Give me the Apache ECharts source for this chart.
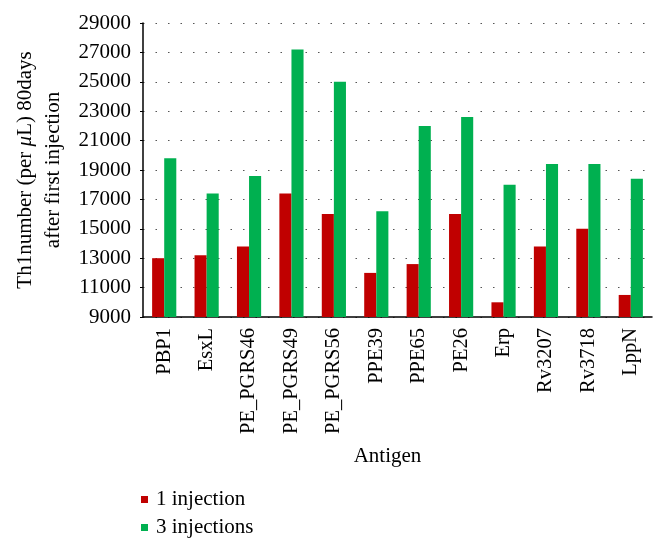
<!DOCTYPE html>
<html><head><meta charset="utf-8">
<script src="https://cdn.jsdelivr.net/npm/echarts@6/dist/echarts.min.js"></script>
<style>html,body{margin:0;padding:0;background:#fff}#c{width:666px;height:551px}</style>
</head><body><div id="c"></div>
<script>
const categories = ['PBP1','EsxL','PE_PGRS46','PE_PGRS49','PE_PGRS56','PPE39','PPE65','PE26','Erp','Rv3207','Rv3718','LppN'];
const oneInjection = [13000,13200,13800,17400,16000,12000,12600,16000,10000,13800,15000,10500];
const threeInjections = [19800,17400,18600,27200,25000,16200,22000,22600,18000,19400,19400,18400];
const seriesNames = ['1 injection','3 injections'];
const F = 'Liberation Serif, Times New Roman, serif';
const FS = 21;
const chart = echarts.init(document.getElementById('c'));
chart.setOption({
  animation:false,
  textStyle:{fontFamily:F},
  grid:{left:143,right:14,top:23,bottom:234},
  legend:{orient:'vertical',left:136,top:484,itemWidth:7,itemHeight:7,itemGap:7,icon:'rect',
    textStyle:{fontFamily:F,fontSize:FS,color:'#000',padding:[0,0,0,3]}},
  xAxis:{type:'category',data:categories,
    axisLine:{lineStyle:{color:'#000',width:1.5}},axisTick:{show:false},
    axisLabel:{rotate:90,fontSize:20.5,color:'#000',fontFamily:F,margin:11,interval:0},
    name:'Antigen',nameLocation:'middle',nameGap:129,nameTextStyle:{fontSize:FS,color:'#000',fontFamily:F,padding:[0,20,0,0]}},
  yAxis:{type:'value',min:9000,max:29000,interval:2000,
    axisLine:{show:true,lineStyle:{color:'#000',width:1.5}},
    axisTick:{show:true,length:3,lineStyle:{color:'#000'}},
    axisLabel:{fontSize:FS,color:'#000',fontFamily:F,margin:12,formatter:v=>String(v)},
    splitLine:{lineStyle:{color:'#555',type:[1.5,11],width:1.2}},
    name:'{a|Th1number (per }{i|μ}{a|L) 80days}\n{a|after first injection}',
    nameLocation:'middle',nameGap:76,
    nameTextStyle:{rich:{a:{fontSize:FS,fontFamily:F,color:'#000',lineHeight:28},i:{fontSize:FS,fontFamily:F,fontStyle:'italic',color:'#000',lineHeight:28}},align:'center'}},
  series:[
    {name:seriesNames[0],type:'bar',data:oneInjection,barGap:'0%',barCategoryGap:'43%',itemStyle:{color:'#C00000'}},
    {name:seriesNames[1],type:'bar',data:threeInjections,itemStyle:{color:'#00B050'}}
  ]
});
</script></body></html>
